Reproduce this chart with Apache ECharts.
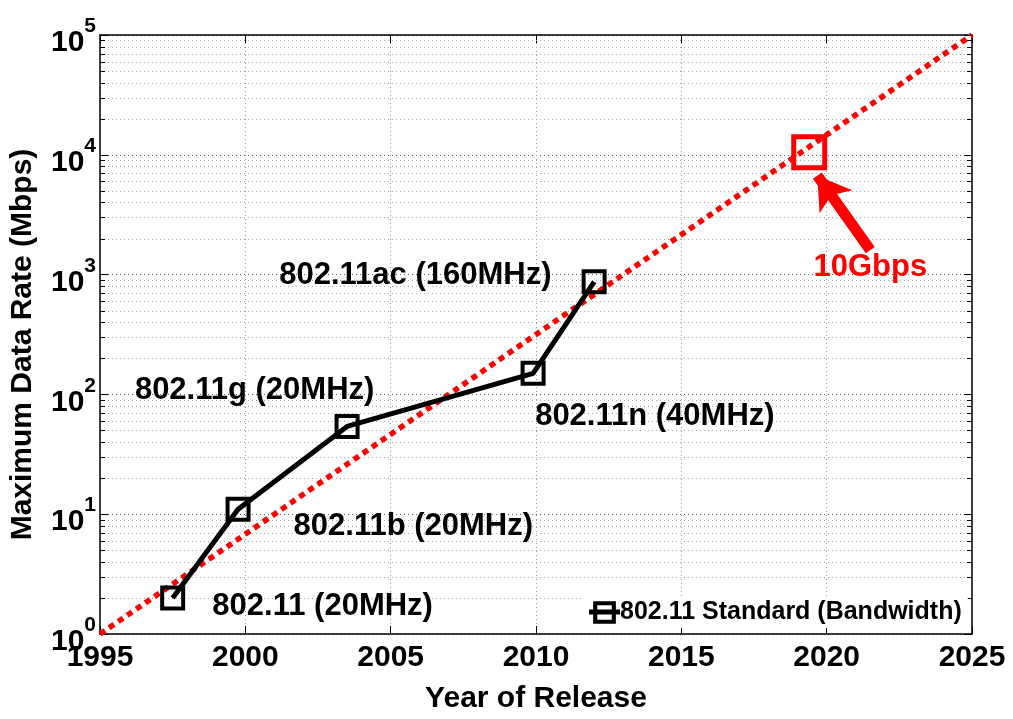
<!DOCTYPE html>
<html>
<head>
<meta charset="utf-8">
<script src="https://cdn.jsdelivr.net/npm/echarts@6/dist/echarts.min.js"></script>
<style>
html,body{margin:0;padding:0;background:#fff;}
#chart{width:1013px;height:719px;}
</style>
</head>
<body>
<div id="chart"></div>
<script>
// ---- data ----
const standardNames = ['802.11 (20MHz)', '802.11b (20MHz)', '802.11g (20MHz)', '802.11n (40MHz)', '802.11ac (160MHz)'];
const standardYears = [1997.5, 1999.75, 2003.5, 2009.9, 2012.0];
const standardRates = [2, 11, 54, 150, 870];
const targetYear = 2019.4;
const targetRate = 10500;
const targetLabel = '10Gbps';
const trendYears = [1995, 2025];
const trendRates = [1, 100000];
const xMin = 1995, xMax = 2025, xStep = 5;
const yMin = 1, yMax = 100000;
const legendName = '802.11 Standard (Bandwidth)';
// annotation anchor points (data coordinates, label centre)
const labelYears = [2002.66, 2005.78, 2000.32, 2014.09, 2005.85];
const labelRates = [1.70, 7.94, 108, 65.8, 977];
const targetLabelYear = 2021.5;
const targetLabelRate = 1148;
const arrowFrom = [2021.5, 1600];
const arrowTo = [2019.68, 6700];

// ---- build ----
const FONT = "'Liberation Sans', Arial, Helvetica, sans-serif";
const minorVals = [];
for (let d = 0; d < 5; d++) {
  for (let k = 2; k <= 9; k++) minorVals.push([xMin, k * Math.pow(10, d)]);
}
const blackData = standardYears.map((y, i) => [y, standardRates[i]]);
const trendData = trendYears.map((y, i) => [y, trendRates[i]]);
const labelData = standardNames.map((n, i) => ({ name: n, value: [labelYears[i], labelRates[i]] }));
labelData.push({ name: targetLabel, value: [targetLabelYear, targetLabelRate], label: { color: '#ff0000' } });

const legendIcon = 'path://M0,8L4,8L4,0L26,0L26,8L30,8L30,13L26,13L26,22L4,22L4,13L0,13Z' +
  'M8,4L8,8L22,8L22,4Z' + 'M8,13L8,18L22,18L22,13Z';

const chart = echarts.init(document.getElementById('chart'), null, { renderer: 'canvas' });
const axisCommonX = {
  type: 'value', min: xMin, max: xMax, interval: xStep,
  axisLine: { show: true, onZero: false, lineStyle: { color: '#000', width: 1.5 } },
  axisTick: { show: true, inside: true, length: 8, lineStyle: { color: '#000', width: 1 } }
};
const axisCommonY = {
  type: 'log', logBase: 10, min: yMin, max: yMax,
  axisLine: { show: true, lineStyle: { color: '#000', width: 1.5 } },
  axisTick: { show: true, inside: true, length: 8, lineStyle: { color: '#000', width: 1 } }
};
const option = {
  animation: false,
  backgroundColor: '#fff',
  textStyle: { fontFamily: FONT },
  grid: { left: 98, right: 41, top: 35, bottom: 79 },
  legend: {
    data: [{ name: legendName, icon: legendIcon }],
    left: 583, top: 597,
    backgroundColor: '#fff',
    padding: [3, 6, 3, 6],
    itemWidth: 31, itemHeight: 23,
    textStyle: { fontFamily: FONT, fontWeight: 'bold', fontSize: 25, color: '#000', padding: [0, 0, 0, -5] }
  },
  xAxis: [
    Object.assign({}, axisCommonX, {
      position: 'bottom',
      name: 'Year of Release', nameLocation: 'middle', nameGap: 50,
      nameTextStyle: { fontFamily: FONT, fontWeight: 'bold', fontSize: 30, color: '#000' },
      axisLabel: { fontFamily: FONT, fontWeight: 'bold', fontSize: 30, color: '#000', margin: 9,
        formatter: function (v) { return String(v); } },
      splitLine: { show: true, lineStyle: { color: '#999', width: 1, type: [1, 3] } }
    }),
    Object.assign({}, axisCommonX, {
      position: 'top', axisLabel: { show: false }, splitLine: { show: false }
    })
  ],
  yAxis: [
    Object.assign({}, axisCommonY, {
      position: 'left',
      name: 'Maximum Data Rate (Mbps)', nameLocation: 'middle', nameGap: 62,
      nameTextStyle: { fontFamily: FONT, fontWeight: 'bold', fontSize: 30, color: '#000', padding: [0, 20, 0, 0] },
      axisLabel: {
        margin: 4,
        formatter: function (v) {
          const e = Math.round(Math.log10(v));
          return '{b|10}{s|' + e + '}';
        },
        rich: {
          b: { fontFamily: FONT, fontWeight: 'bold', fontSize: 30, color: '#000', verticalAlign: 'bottom', padding: [16, 0, 0, 0] },
          s: { fontFamily: FONT, fontWeight: 'bold', fontSize: 21, color: '#000', verticalAlign: 'bottom', padding: [0, 0, 21, 0] }
        }
      },
      splitLine: { show: true, lineStyle: { color: '#666', width: 1, type: [1, 3] } }
    }),
    Object.assign({}, axisCommonY, {
      position: 'right', axisLabel: { show: false }, splitLine: { show: false }
    })
  ],
  series: [
    {
      type: 'custom', name: 'minor', z: 1, silent: true,
      xAxisIndex: 0, yAxisIndex: 0,
      data: minorVals,
      renderItem: function (params, api) {
        const cs = params.coordSys;
        const y = Math.round(api.coord([xMin, api.value(1)])[1]) + 0.5;
        return {
          type: 'group', children: [
            { type: 'line', shape: { x1: cs.x, y1: y, x2: cs.x + cs.width, y2: y }, style: { stroke: '#aaa', lineWidth: 1, lineDash: [1, 3] } },
            { type: 'line', shape: { x1: cs.x, y1: y, x2: cs.x + 5, y2: y }, style: { stroke: '#000', lineWidth: 1 } },
            { type: 'line', shape: { x1: cs.x + cs.width - 5, y1: y, x2: cs.x + cs.width, y2: y }, style: { stroke: '#000', lineWidth: 1 } }
          ]
        };
      }
    },
    {
      // legend key holder (no data): supplies the legend icon style
      type: 'scatter', name: legendName, data: [],
      itemStyle: { color: '#000', opacity: 1 }
    },
    {
      type: 'line', name: 'trend', z: 3, silent: true,
      data: trendData, symbol: 'none', clip: false,
      lineStyle: { color: '#ff0000', width: 5.5, type: [6, 5] },
      markLine: {
        silent: true, symbol: ['none', 'arrow'], symbolSize: [30, 32],
        label: { show: false },
        lineStyle: { color: '#ff0000', width: 11, type: 'solid' },
        data: [[{ coord: arrowFrom }, { coord: arrowTo }]]
      }
    },
    {
      type: 'line', name: 'standards', z: 4,
      data: blackData, symbol: 'rect', symbolSize: 21, showAllSymbol: true,
      lineStyle: { color: '#000', width: 5 },
      itemStyle: { color: 'transparent', borderColor: '#000', borderWidth: 4 }
    },
    {
      type: 'scatter', name: 'target', z: 4,
      data: [[targetYear, targetRate]], symbol: 'rect', symbolSize: 31,
      itemStyle: { color: 'transparent', borderColor: '#ff0000', borderWidth: 5, opacity: 1 }
    },
    {
      type: 'scatter', name: 'labels', z: 5, silent: true,
      data: labelData, symbolSize: 0,
      itemStyle: { opacity: 1 },
      label: {
        show: true, position: 'inside', formatter: '{b}', opacity: 1,
        fontFamily: FONT, fontWeight: 'bold', fontSize: 31, color: '#000'
      }
    }
  ]
};
chart.setOption(option);
</script>
</body>
</html>
